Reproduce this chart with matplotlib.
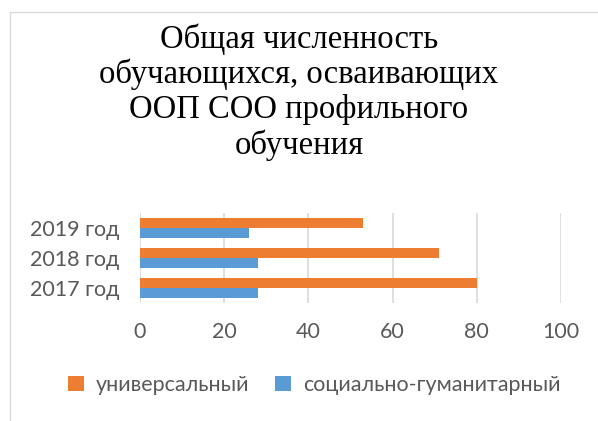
import matplotlib
matplotlib.use("Agg")
import matplotlib.pyplot as plt
from matplotlib.patches import Rectangle
import numpy as np

years = ["2017 год", "2018 год", "2019 год"]
universal = [80, 71, 53]
social = [28, 28, 26]
series_names = ["универсальный", "социально-гуманитарный"]
title = "Общая численность\nобучающихся, осваивающих\nООП СОО профильного\nобучения"

ORANGE = "#ED7D31"
BLUE = "#5B9BD5"
GREY_TEXT = "#595959"


def main() -> None:
    fig = plt.figure(figsize=(5.98, 4.21), dpi=100)

    # light chart-area frame (only left and top edges are visible)
    fig.patches.append(Rectangle((10 / 598, -0.1), 1.2, 1 - 12 / 421 + 0.1,
                                 transform=fig.transFigure, fill=False,
                                 edgecolor="#d9d9d9", linewidth=1.0))

    ax = fig.add_axes([140 / 598, 1 - 303 / 421, (561 - 140) / 598, 90 / 421])

    y = np.arange(len(years))
    h = 1 / 3
    ax.barh(y + h / 2, universal, height=h, color=ORANGE, label=series_names[0], zorder=3)
    ax.barh(y - h / 2, social, height=h, color=BLUE, label=series_names[1], zorder=3)

    ax.set_xlim(0, 100)
    ax.set_ylim(-0.5, len(years) - 0.5)
    ax.set_xticks(range(0, 101, 20))
    ax.set_yticks(y)
    ax.set_yticklabels(years)
    ax.grid(axis="x", color="#d9d9d9", linewidth=1.2, zorder=0)
    for s in ax.spines.values():
        s.set_visible(False)
    ax.tick_params(length=0, labelsize=15.5, labelcolor=GREY_TEXT)
    ax.tick_params(axis="x", pad=14)
    ax.tick_params(axis="y", pad=15)
    for lbl in ax.get_xticklabels() + ax.get_yticklabels():
        lbl.set_fontfamily("Lato")

    fig.text(0.5, 1 - 92 / 421, title, ha="center", va="center",
             fontsize=23.5, family="Liberation Serif", color="black", linespacing=1.17)

    fig.legend(loc="center", bbox_to_anchor=(0.525, 1 - 385 / 421), ncol=2,
               frameon=False, handlelength=0.75, handleheight=0.75,
               columnspacing=1.2, handletextpad=0.55,
               prop={"family": "Lato", "size": 15.5}, labelcolor=GREY_TEXT)

    fig.savefig("out.png", dpi=100)


if __name__ == "__main__":
    main()
